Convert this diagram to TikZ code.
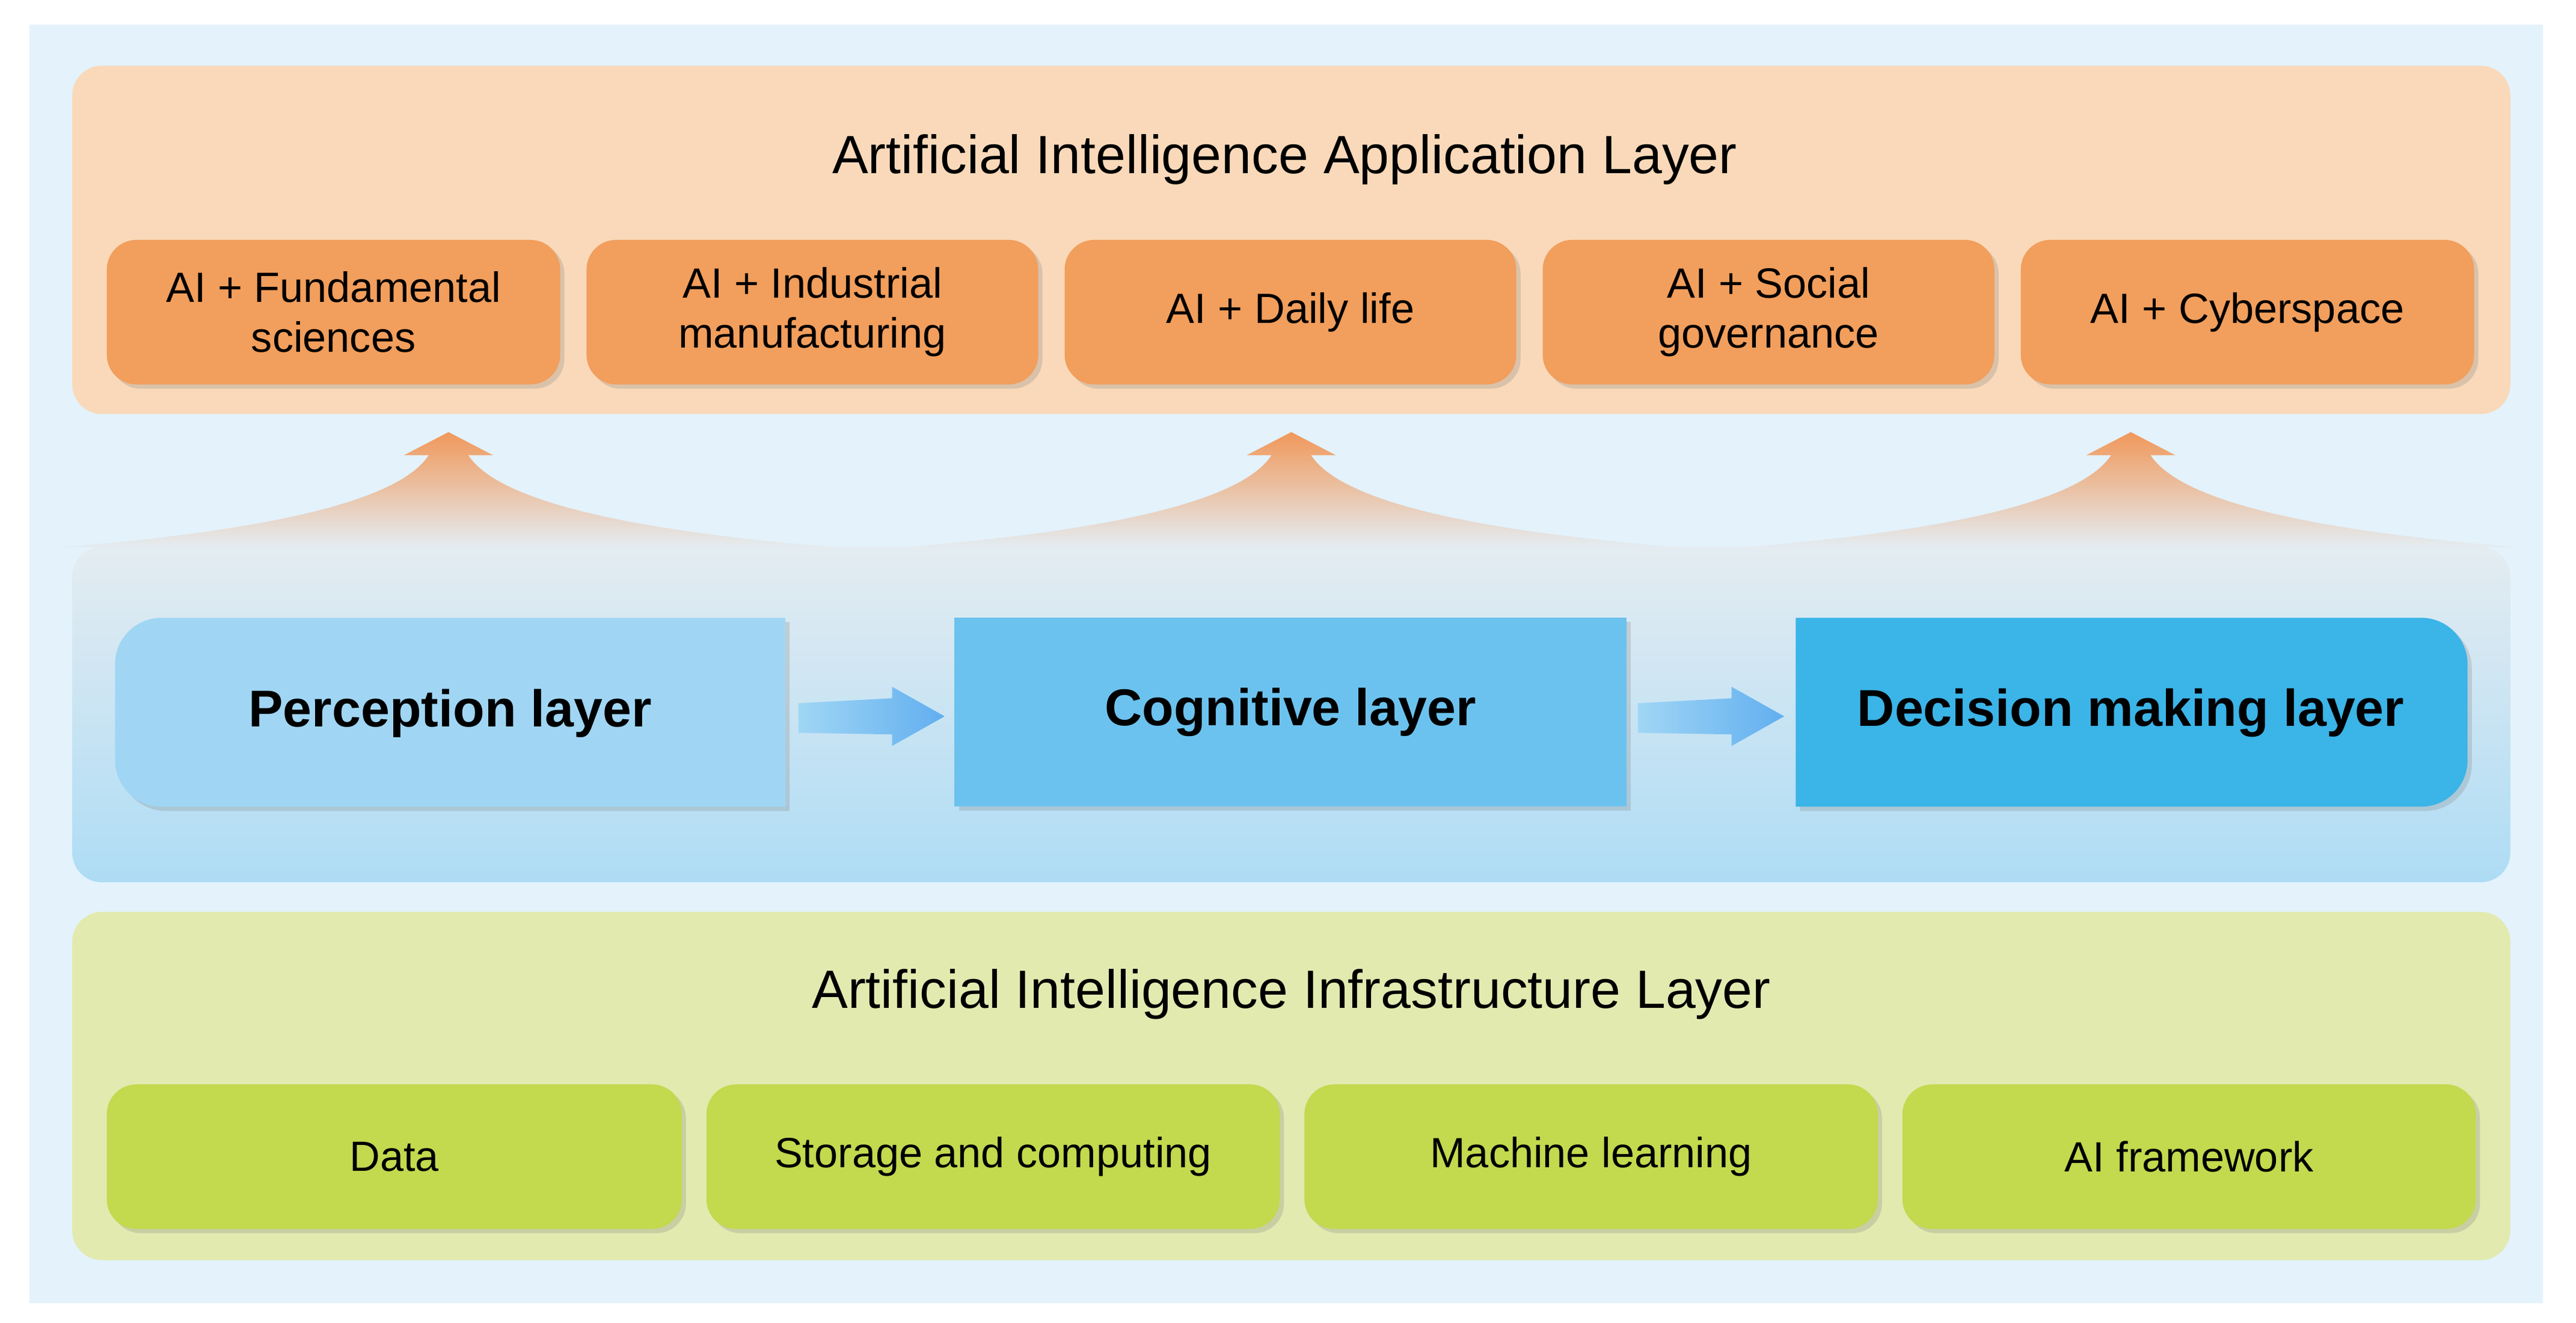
\documentclass[tikz,border=0pt]{standalone}
\usepackage{fontspec}
\setmainfont{Liberation Sans}
\usetikzlibrary{shadows}
\definecolor{bgblue}{HTML}{E3F2FB}
\definecolor{toppan}{HTML}{F9D9B9}
\definecolor{obox}{HTML}{F29E5C}
\definecolor{botpan}{HTML}{E2EAB0}
\definecolor{gbox}{HTML}{C3D94E}
\definecolor{pb}{HTML}{A0D6F4}
\definecolor{cb}{HTML}{6CC2EE}
\definecolor{db}{HTML}{3BB4E8}
\definecolor{midtop}{HTML}{E4ECF1}
\definecolor{midbot}{HTML}{AEDCF5}
\definecolor{arr}{HTML}{F0985A}
\begin{document}
\begin{tikzpicture}[x=0.02732cm,y=-0.02732cm,
  panel/.style={rounded corners=14pt,draw=none},
  shd/.style={drop shadow={opacity=0.25,shadow xshift=2pt,shadow yshift=-2pt}},
  ob/.style={fill=obox,rounded corners=14pt,minimum height=88*0.777pt,font=\fontsize{20}{23.5}\selectfont,align=center,shd},
  gb/.style={fill=gbox,rounded corners=14pt,minimum height=88*0.777pt,font=\fontsize{20}{23.5}\selectfont,align=center,shd},
  title/.style={font=\fontsize{25.5}{30}\selectfont},
  mid/.style={font=\bfseries\fontsize{24.5}{30}\selectfont},
  upar/.style={draw=none,top color=arr,bottom color=midtop},
  rarr/.style={draw=none,left color=pb,right color=cb!90!blue}
]
\fill[white] (0,0) rectangle (1568,805);
\fill[bgblue] (18,15) rectangle (1548,793);
% panels
\fill[toppan,panel] (44,40) rectangle (1528,252);
\node[title] (t1) at (782,97) {Artificial Intelligence Application Layer};
\shade[panel,top color=midtop,bottom color=midbot] (44,333) rectangle (1528,537);
\fill[botpan,panel] (44,555) rectangle (1528,767);
\node[title] (t2) at (786,605) {Artificial Intelligence Infrastructure Layer};
% orange boxes
\foreach \a/\b/\t [count=\i] in {65/341/{AI + Fundamental\\sciences},357/632/{AI + Industrial\\manufacturing},648/923/{AI + Daily life},939/1214/{AI + Social\\governance},1230/1506/{AI + Cyberspace}}{
  \node[ob,minimum width={(\b-\a)*0.777pt}] (o\i) at ({(\a+\b)/2},190) {\t};
}
% green boxes
\foreach \a/\b/\t [count=\i] in {65/415/Data,430/779/Storage and computing,794/1143/Machine learning,1158/1507/AI framework}{
  \node[gb,minimum width={(\b-\a)*0.777pt}] (g\i) at ({(\a+\b)/2},704) {\t};
}
% up arrows
\foreach \x [count=\i] in {273,786,1297}{
  \shade[upar] ({\x-235},333) .. controls ({\x-110},323) and ({\x-30},305) .. ({\x-12},277)
    -- ({\x-27},277) -- (\x,263) -- ({\x+27},277) -- ({\x+12},277)
    .. controls ({\x+30},305) and ({\x+110},323) .. ({\x+235},333) -- cycle;
}
% middle boxes
\fill[pb,shd] (478,491) -- (478,376) [rounded corners=22pt] -- (70,376) -- (70,491) [sharp corners] -- cycle;
\node[mid] (p) at (274,434) {Perception layer};
\node[fill=cb,minimum width=409*0.777pt,minimum height=115*0.777pt,inner sep=0pt,shd,mid] (c) at (785.5,433.5) {Cognitive layer};
\fill[db,shd] (1093,376) [rounded corners=22pt] -- (1502,376) -- (1502,491) [sharp corners] -- (1093,491) -- cycle;
\node[mid] (d) at (1297,434) {Decision making layer};
% right arrows
\foreach \a in {486,997}{
  \shade[rarr] (\a,428) -- ({\a+57},425) -- ({\a+57},418) -- ({\a+89},436) -- ({\a+57},454) -- ({\a+57},447) -- (\a,446) -- cycle;
}
\end{tikzpicture}
\end{document}
